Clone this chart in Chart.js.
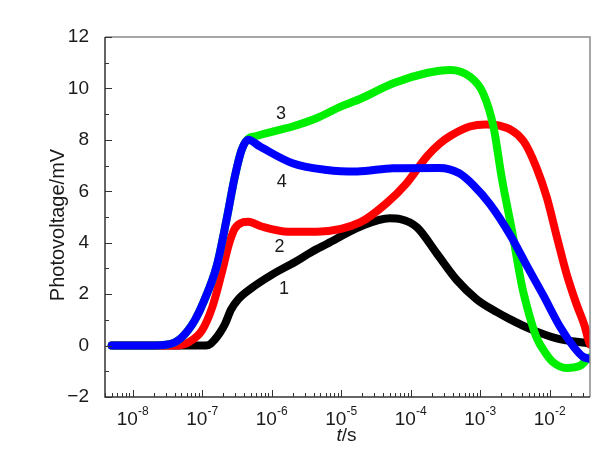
<!DOCTYPE html>
<html>
<head>
<meta charset="utf-8">
<script src="https://cdn.jsdelivr.net/npm/chart.js@4/dist/chart.umd.min.js"></script>
<style>
  html, body { margin: 0; padding: 0; background: #fff; }
  #wrap { width: 613px; height: 459px; position: relative; }
</style>
</head>
<body>
<div id="wrap"><canvas id="pvChart"></canvas></div>
<script>
// --- Data (t in seconds, photovoltage in mV) ---
const time1 = [5e-9, 1e-7, 1.23e-7, 1.5e-7, 1.8e-7, 2.14e-7, 2.6e-7, 3.3e-7, 5.1e-7, 1e-6, 2.2e-6, 3.8e-6, 6.2e-6, 1.9e-5, 5e-5, 7.1e-5, 1.23e-4, 2.36e-4, 4.6e-4, 8.9e-4, 1.74e-3, 2.7e-3, 5.2e-3, 1.26e-2, 3.8e-2];
const volt1 = [0, 0, 0.02, 0.22, 0.5, 0.85, 1.4, 1.8, 2.23, 2.75, 3.26, 3.65, 3.95, 4.63, 4.95, 4.92, 4.6, 3.59, 2.55, 1.8, 1.3, 1.02, 0.65, 0.28, 0.08];

const time2 = [5e-9, 4e-8, 6.6e-8, 1e-7, 1.4e-7, 1.9e-7, 2.4e-7, 2.95e-7, 3.9e-7, 4.6e-7, 7.2e-7, 1.74e-6, 4.5e-6, 1.9e-5, 4.5e-5, 8.7e-5, 1.7e-4, 2.6e-4, 3.7e-4, 7.1e-4, 1.2e-3, 1.9e-3, 4.2e-3, 6.5e-3, 9.1e-3, 1.26e-2, 1.74e-2, 2.4e-2, 3.2e-2, 3.6e-2, 3.8e-2];
const volt2 = [0, 0, 0.15, 0.6, 1.5, 2.8, 3.9, 4.55, 4.8, 4.82, 4.63, 4.43, 4.43, 4.8, 5.54, 6.31, 7.35, 7.85, 8.15, 8.52, 8.6, 8.55, 7.95, 6.9, 5.75, 4.25, 2.81, 1.65, 0.74, 0.22, 0.05];

const time3 = [5e-9, 2e-8, 3e-8, 4e-8, 5e-8, 6.3e-8, 7.9e-8, 1.05e-7, 1.62e-7, 2.24e-7, 2.95e-7, 3.7e-7, 4.6e-7, 6e-7, 1.3e-6, 2e-6, 4.5e-6, 1e-5, 1.9e-5, 5.6e-5, 1.7e-4, 3.7e-4, 7.1e-4, 1.1e-3, 1.55e-3, 2.05e-3, 2.9e-3, 4e-3, 5.2e-3, 6.5e-3, 8.5e-3, 1.12e-2, 1.74e-2, 2.75e-2, 3.4e-2, 3.8e-2];
const volt3 = [0, 0, 0.03, 0.12, 0.3, 0.6, 1.0, 1.7, 3.1, 4.89, 6.57, 7.61, 8.05, 8.15, 8.39, 8.52, 8.85, 9.3, 9.6, 10.2, 10.6, 10.72, 10.46, 9.82, 8.52, 6.5, 4.4, 2.3, 1.1, 0.3, -0.25, -0.65, -0.87, -0.78, -0.55, -0.45];

const time4 = [5e-9, 2e-8, 3e-8, 4e-8, 5e-8, 6.3e-8, 7.9e-8, 1.05e-7, 1.62e-7, 2.24e-7, 2.95e-7, 3.7e-7, 4.6e-7, 6.8e-7, 2e-6, 6.2e-6, 1.7e-5, 5.6e-5, 2.6e-4, 5e-4, 7.9e-4, 1.38e-3, 2.7e-3, 4.7e-3, 8.1e-3, 1.4e-2, 2.2e-2, 3e-2, 3.8e-2];
const volt4 = [0, 0, 0.03, 0.12, 0.3, 0.6, 1.0, 1.7, 3.1, 4.89, 6.57, 7.61, 8.0, 7.74, 7.09, 6.83, 6.77, 6.9, 6.91, 6.7, 6.25, 5.5, 4.3, 3.1, 1.95, 0.74, -0.04, -0.43, -0.52];

// curve numbers written next to the curves
const curveLabels = ['1', '2', '3', '4'];
const curveLabelT = [1.5e-6, 1.3e-6, 1.36e-6, 1.4e-6];
const curveLabelV = [2.2, 3.85, 9.0, 6.37];

// axis ticks
const yTicks = [-2, 0, 2, 4, 6, 8, 10, 12];
const xDecades = [-8, -7, -6, -5, -4, -3, -2];

const FONT = "'Liberation Sans', Arial, sans-serif";

function toPoints(ts, vs) {
    return ts.map((t, i) => ({ x: t, y: vs[i] }));
}

function makeSet(label, ts, vs, color, order) {
    return {
        label: label,
        data: toPoints(ts, vs),
        borderColor: color,
        backgroundColor: color,
        borderWidth: 8,
        pointRadius: 0,
        cubicInterpolationMode: 'monotone',
        borderCapStyle: 'round',
        borderJoinStyle: 'round',
        order: order
    };
}

// --- Plugin: frame, inward ticks, superscript x labels, titles, curve numbers ---
const axisDeco = {
    id: 'axisDeco',
    afterDatasetsDraw(chart) {
        const { ctx, chartArea: { left, right, top, bottom }, scales: { x, y } } = chart;
        ctx.save();

        // frame
        ctx.lineWidth = 1.5;
        ctx.strokeStyle = '#8a8a8a';
        ctx.beginPath();
        ctx.moveTo(left, top); ctx.lineTo(right, top); ctx.lineTo(right, bottom);
        ctx.stroke();
        ctx.strokeStyle = '#333';
        ctx.beginPath();
        ctx.moveTo(left, top); ctx.lineTo(left, bottom); ctx.lineTo(right, bottom);
        ctx.stroke();

        // y ticks (major even, minor odd)
        ctx.lineWidth = 1;
        ctx.beginPath();
        for (let v = yTicks[0]; v <= yTicks[yTicks.length - 1]; v++) {
            const py = Math.round(y.getPixelForValue(v)) + 0.5;
            const len = (v % 2 === 0) ? 7 : 4;
            ctx.moveTo(left, py); ctx.lineTo(left + len, py);
        }
        // x ticks (decades major, 2..9 minor)
        for (let d = -9; d <= -1; d++) {
            for (let m = 1; m <= 9; m++) {
                const t = m * Math.pow(10, d);
                if (t < x.min || t > x.max) continue;
                const px = Math.round(x.getPixelForValue(t)) + 0.5;
                const len = (m === 1) ? 7 : 4;
                ctx.moveTo(px, bottom); ctx.lineTo(px, bottom - len);
            }
        }
        ctx.stroke();

        // x tick labels 10^n
        ctx.fillStyle = '#1a1a1a';
        ctx.textBaseline = 'alphabetic';
        ctx.textAlign = 'left';
        xDecades.forEach(d => {
            const px = x.getPixelForValue(Math.pow(10, d));
            ctx.font = '19px ' + FONT;
            const wBase = ctx.measureText('10').width;
            ctx.font = '12px ' + FONT;
            const sup = '-' + Math.abs(d);
            const wSup = ctx.measureText(sup).width;
            const x0 = px - (wBase + wSup) / 2;
            ctx.font = '19px ' + FONT;
            ctx.fillText('10', x0, bottom + 28);
            ctx.font = '12px ' + FONT;
            ctx.fillText(sup, x0 + wBase, bottom + 18);
        });

        // x title: italic t + "/s"
        ctx.font = 'italic 19px ' + FONT;
        const wt = ctx.measureText('t').width;
        ctx.font = '19px ' + FONT;
        const ws = ctx.measureText('/s').width;
        const cx = (left + right) / 2 - 1;
        ctx.font = 'italic 19px ' + FONT;
        ctx.fillText('t', cx - (wt + ws) / 2, bottom + 44);
        ctx.font = '19px ' + FONT;
        ctx.fillText('/s', cx - (wt + ws) / 2 + wt, bottom + 44);

        // y title
        ctx.save();
        ctx.translate(58, (top + bottom) / 2 + 8);
        ctx.rotate(-Math.PI / 2);
        ctx.textAlign = 'center';
        ctx.textBaseline = 'middle';
        ctx.font = '20px ' + FONT;
        ctx.fillText('Photovoltage/mV', 0, 0);
        ctx.restore();

        // curve numbers
        ctx.textAlign = 'center';
        ctx.textBaseline = 'middle';
        ctx.font = '18px ' + FONT;
        curveLabels.forEach((s, i) => {
            ctx.fillText(s, x.getPixelForValue(curveLabelT[i]), y.getPixelForValue(curveLabelV[i]));
        });

        ctx.restore();
    }
};

const config = {
    type: 'line',
    data: {
        datasets: [
            makeSet('1', time1, volt1, '#000000', 4),
            makeSet('2', time2, volt2, '#ff0000', 3),
            makeSet('3', time3, volt3, '#00ee00', 2),
            makeSet('4', time4, volt4, '#0000ff', 1)
        ]
    },
    options: {
        responsive: true,
        maintainAspectRatio: false,
        animation: false,
        layout: { padding: { left: 0, top: 37, right: 23, bottom: 0 } },
        plugins: {
            legend: { display: false },
            tooltip: { enabled: false }
        },
        scales: {
            x: {
                type: 'logarithmic',
                min: 4e-9,
                max: 3.8e-2,
                grid: { display: false },
                border: { display: false },
                ticks: { display: false },
                afterFit: (scale) => { scale.height = 62; }
            },
            y: {
                type: 'linear',
                min: -2,
                max: 12,
                grid: { display: false },
                border: { display: false },
                afterBuildTicks: (scale) => {
                    scale.ticks = yTicks.map(v => ({ value: v }));
                },
                ticks: {
                    color: '#1a1a1a',
                    padding: 8,
                    font: { family: FONT, size: 19 },
                    callback: (v) => (v < 0 ? '\u2212' + Math.abs(v) : String(v))
                },
                afterFit: (scale) => { scale.width = 105; }
            }
        }
    },
    plugins: [axisDeco]
};

const pvChart = new Chart(document.getElementById('pvChart'), config);
</script>
</body>
</html>
